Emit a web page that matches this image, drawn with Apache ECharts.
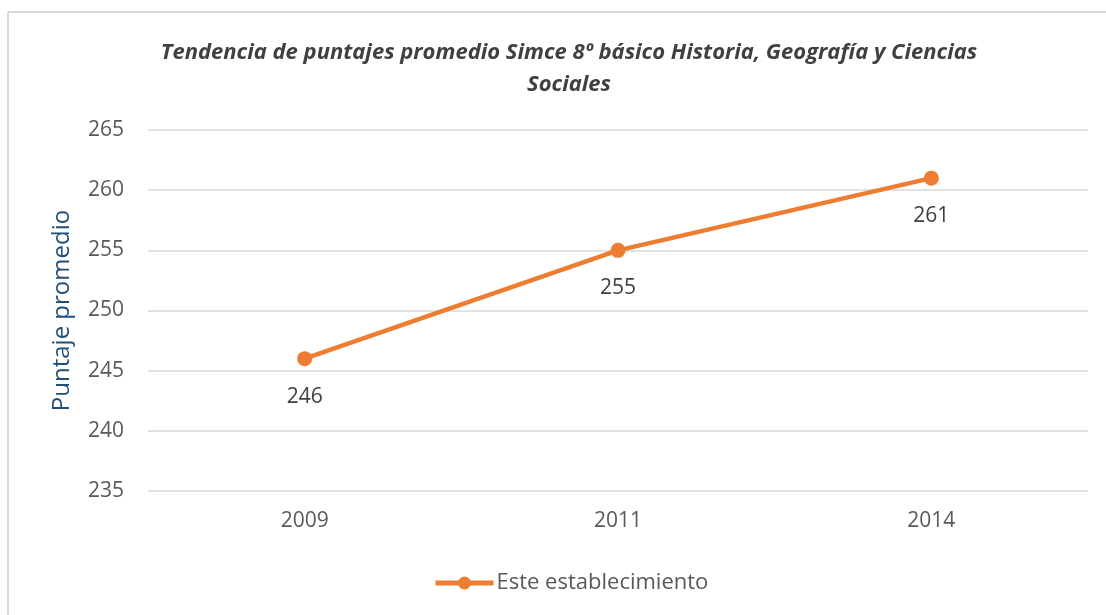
<!DOCTYPE html>
<html><head><meta charset="utf-8">
<script src="https://cdn.jsdelivr.net/npm/echarts@6/dist/echarts.min.js"></script>
<style>html,body{margin:0;padding:0;background:#fff}#c{width:1106px;height:615px}</style>
</head><body><div id="c"></div>
<script>
const categories = ['2009', '2011', '2014'];
const seriesName = 'Este establecimiento';
const values = [246, 255, 261];
const yMin = 235, yMax = 265, yStep = 5;
const titleText = 'Tendencia de puntajes promedio Simce 8º básico Historia, Geografía y Ciencias\nSociales';
const yAxisName = 'Puntaje promedio';

const chart = echarts.init(document.getElementById('c'), null, {renderer: 'canvas'});
chart.setOption({
  animation: false,
  backgroundColor: '#fff',
  graphic: [
    {type: 'line', shape: {x1: 8, y1: 12, x2: 1106, y2: 12}, style: {stroke: '#d9d9d9', lineWidth: 2}},
    {type: 'line', shape: {x1: 8, y1: 12, x2: 8, y2: 615}, style: {stroke: '#d9d9d9', lineWidth: 2}}
  ],
  title: {
    text: titleText,
    left: 564, top: 32, textAlign: 'center',
    textStyle: {fontFamily: 'Open Sans', fontStyle: 'italic', fontWeight: 'bold', fontSize: 22, color: '#404040', lineHeight: 32}
  },
  grid: {left: 148, right: 18, top: 130, bottom: 124, containLabel: false},
  legend: {
    bottom: 16, left: 428,
    data: [seriesName],
    itemWidth: 58, itemHeight: 16, itemGap: 4,
    lineStyle: {width: 5},
    textStyle: {fontFamily: 'Open Sans', fontSize: 22, color: '#595959', padding: [0, 0, 0, -2]}
  },
  xAxis: {
    type: 'category', data: categories, boundaryGap: true,
    axisLine: {show: false}, axisTick: {show: false},
    axisLabel: {fontFamily: 'Open Sans', fontSize: 21, color: '#595959', margin: 20}
  },
  yAxis: {
    type: 'value', min: yMin, max: yMax, interval: yStep,
    name: yAxisName, nameLocation: 'middle', nameGap: 74, nameRotate: 90,
    nameTextStyle: {fontFamily: 'Open Sans', fontSize: 24, color: '#1f4e79'},
    axisLine: {show: false}, axisTick: {show: false},
    axisLabel: {fontFamily: 'Open Sans', fontSize: 21, color: '#595959', margin: 24},
    splitLine: {lineStyle: {color: '#d9d9d9', width: 1.5}}
  },
  series: [{
    name: seriesName, type: 'line', data: values,
    symbol: 'circle', symbolSize: 15,
    lineStyle: {color: '#ed7d31', width: 4.5},
    itemStyle: {color: '#ed7d31'},
    label: {show: true, position: 'bottom', distance: 20, fontFamily: 'Open Sans', fontSize: 21, color: '#404040'}
  }]
});
</script></body></html>
